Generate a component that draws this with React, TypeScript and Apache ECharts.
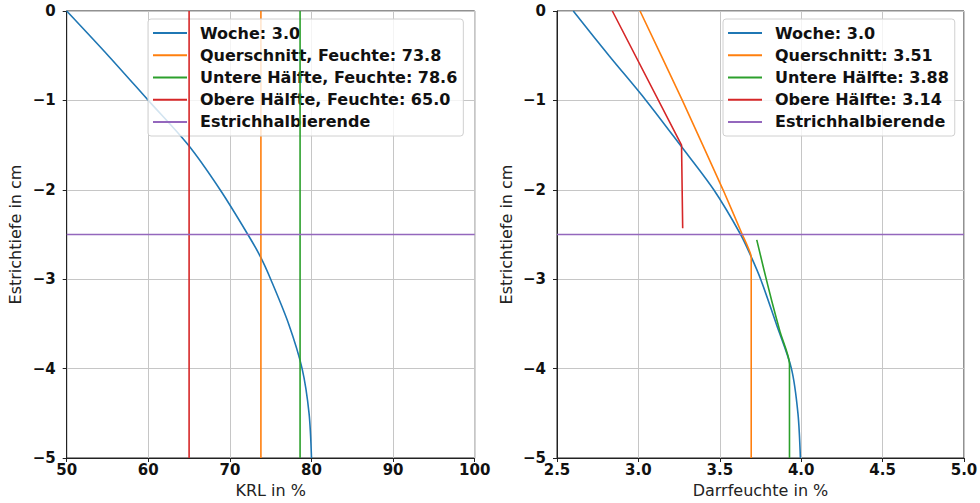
import React, { useEffect, useRef } from "react";
import * as echarts from "echarts";

// Depth profile (cm) for the week-3 moisture curves
const depthCurve = [0, -0.5, -1, -1.5, -2, -2.5, -2.75, -3, -3.5, -4, -4.5, -5];
const krlWoche = [50, 55.1, 60, 64.9, 68.8, 72.2, 73.75, 75.0, 77.2, 78.85, 79.7, 80.0];
const darrWoche = [2.6, 2.82, 3.047, 3.257, 3.463, 3.628, 3.693, 3.751, 3.847, 3.94, 3.98, 3.995];

// Left panel: mean KRL per slice (drawn as vertical lines over the full depth)
const krlQuer = 73.8;
const krlUnten = 78.6;
const krlOben = 65.0;
const fullDepth = [0, -5];

// Right panel: Darrfeuchte per slice
const darrQuerDepth = [0, -1, -2, -2.5, -2.75, -5];
const darrQuerX = [3.01, 3.27, 3.52, 3.638, 3.693, 3.693];
const darrUntenDepth = [-2.56, -2.9, -3.25, -3.6, -3.95, -5];
const darrUntenX = [3.727, 3.772, 3.82, 3.872, 3.928, 3.928];
const darrObenDepth = [0, -1.5, -2.43];
const darrObenX = [2.84, 3.265, 3.272];
const darrMeans = { quer: 3.51, unten: 3.88, oben: 3.14 };

const halfDepth = -2.5;
const krlRange = [50, 100];
const darrRange = [2.5, 5.0];
const weekLabel = "3.0";

const C = {
  blue: "#1f77b4",
  orange: "#ff7f0e",
  green: "#2ca02c",
  red: "#d62728",
  purple: "#9467bd",
};

const FONT = "DejaVu Sans";

const zip = (xs: number[], ys: number[]) => xs.map((x, i) => [x, ys[i]]);

export default function App() {
  const ref = useRef<HTMLDivElement>(null);

  useEffect(() => {
    document.body.style.margin = "0";
    if (!ref.current) return;
    const chart = echarts.init(ref.current, undefined, { renderer: "svg" });

    const nWoche = `Woche: ${weekLabel}`;
    const nHalf = "Estrichhalbierende";
    const lQuer = `Querschnitt, Feuchte: ${krlQuer.toFixed(1)}`;
    const lUnten = `Untere Hälfte, Feuchte: ${krlUnten.toFixed(1)}`;
    const lOben = `Obere Hälfte, Feuchte: ${krlOben.toFixed(1)}`;
    const rQuer = `Querschnitt: ${darrMeans.quer.toFixed(2)}`;
    const rUnten = `Untere Hälfte: ${darrMeans.unten.toFixed(2)}`;
    const rOben = `Obere Hälfte: ${darrMeans.oben.toFixed(2)}`;

    const line = (name: string, color: string, data: number[][], idx: number, z = 2) => ({
      type: "line",
      name,
      xAxisIndex: idx,
      yAxisIndex: idx,
      data,
      symbol: "none",
      showSymbol: false,
      smooth: false,
      z,
      lineStyle: { color, width: 1.6 },
      itemStyle: { color },
      silent: true,
    });

    const yMinus = (v: number) => (v === 0 ? "0" : "\u2212" + Math.abs(v));

    const xAxisBase = (idx: number, name: string, min: number, max: number, interval: number, fmt: (v: number) => string) => ({
      type: "value",
      gridIndex: idx,
      min,
      max,
      interval,
      name,
      nameLocation: "middle",
      nameGap: 24,
      nameTextStyle: { fontFamily: FONT, fontSize: 16, color: "#222" },
      axisLine: { show: true, onZero: false, lineStyle: { color: "#222", width: 1 } },
      axisTick: { show: true, inside: false, length: 4, lineStyle: { color: "#222" } },
      axisLabel: { fontFamily: FONT, fontSize: 15, fontWeight: "bold", color: "#111", margin: 4, formatter: fmt },
      splitLine: { show: true, lineStyle: { color: "#c6c6c6", width: 1 } },
    });

    const yAxisBase = (idx: number) => ({
      type: "value",
      gridIndex: idx,
      min: -5,
      max: 0,
      interval: 1,
      name: "Estrichtiefe in cm",
      nameLocation: "middle",
      nameGap: 43,
      nameTextStyle: { fontFamily: FONT, fontSize: 16, color: "#222" },
      axisLine: { show: true, onZero: false, lineStyle: { color: "#222", width: 1 } },
      axisTick: { show: true, inside: false, length: 4, lineStyle: { color: "#222" } },
      axisLabel: { fontFamily: FONT, fontSize: 15, fontWeight: "bold", color: "#111", margin: 11, formatter: yMinus },
      splitLine: { show: true, lineStyle: { color: "#c6c6c6", width: 1 } },
    });

    const legendBase = (left: number, data: string[]) => ({
      orient: "vertical",
      left,
      top: 19,
      data: data.map((name) => ({ name, icon: "rect" })),
      itemWidth: 34,
      itemHeight: 2,
      itemGap: 0,
      padding: [3, 6, 3, 5],
      backgroundColor: "rgba(255,255,255,0.8)",
      borderColor: "#d0d0d0",
      borderWidth: 1,
      borderRadius: 3,
      selectedMode: false,
      textStyle: {
        fontFamily: FONT,
        fontSize: 16,
        fontWeight: "bold",
        color: "#111",
        lineHeight: 22.2,
        padding: [0, 0, 0, 8],
      },
    });

    const gridBase = (left: number, width: number) => ({
      left,
      top: 11,
      width,
      height: 447,
      outerBoundsMode: "none",
      containLabel: false,
      show: true,
      borderColor: "#222",
      borderWidth: 1,
      backgroundColor: "transparent",
    });

    chart.setOption({
      animation: false,
      backgroundColor: "#ffffff",
      grid: [gridBase(66.7, 408), gridBase(557, 407)],
      xAxis: [
        xAxisBase(0, "KRL in %", krlRange[0], krlRange[1], 10, (v: number) => String(v)),
        xAxisBase(1, "Darrfeuchte in %", darrRange[0], darrRange[1], 0.5, (v: number) => v.toFixed(1)),
      ],
      yAxis: [yAxisBase(0), yAxisBase(1)],
      legend: [
        legendBase(148, [nWoche, lQuer, lUnten, lOben, nHalf]),
        legendBase(723, [nWoche, rQuer, rUnten, rOben, nHalf]),
      ],
      series: [
        // left panel
        { ...line(nWoche, C.blue, zip(krlWoche, depthCurve), 0), smooth: 0.3 },
        line(lQuer, C.orange, zip([krlQuer, krlQuer], fullDepth), 0, 3),
        line(lUnten, C.green, zip([krlUnten, krlUnten], fullDepth), 0, 4),
        line(lOben, C.red, zip([krlOben, krlOben], fullDepth), 0, 5),
        line(nHalf, C.purple, zip(krlRange, [halfDepth, halfDepth]), 0, 6),
        // right panel
        { ...line(nWoche, C.blue, zip(darrWoche, depthCurve), 1), smooth: 0.3 },
        { ...line(rQuer, C.orange, zip(darrQuerX, darrQuerDepth), 1, 3), smooth: 0.15 },
        { ...line(rUnten, C.green, zip(darrUntenX, darrUntenDepth), 1, 4), smooth: 0.25 },
        line(rOben, C.red, zip(darrObenX, darrObenDepth), 1, 5),
        line(nHalf, C.purple, zip(darrRange, [halfDepth, halfDepth]), 1, 6),
      ],
    });

    return () => chart.dispose();
  }, []);

  return <div ref={ref} style={{ width: 980, height: 503 }} />;
}
